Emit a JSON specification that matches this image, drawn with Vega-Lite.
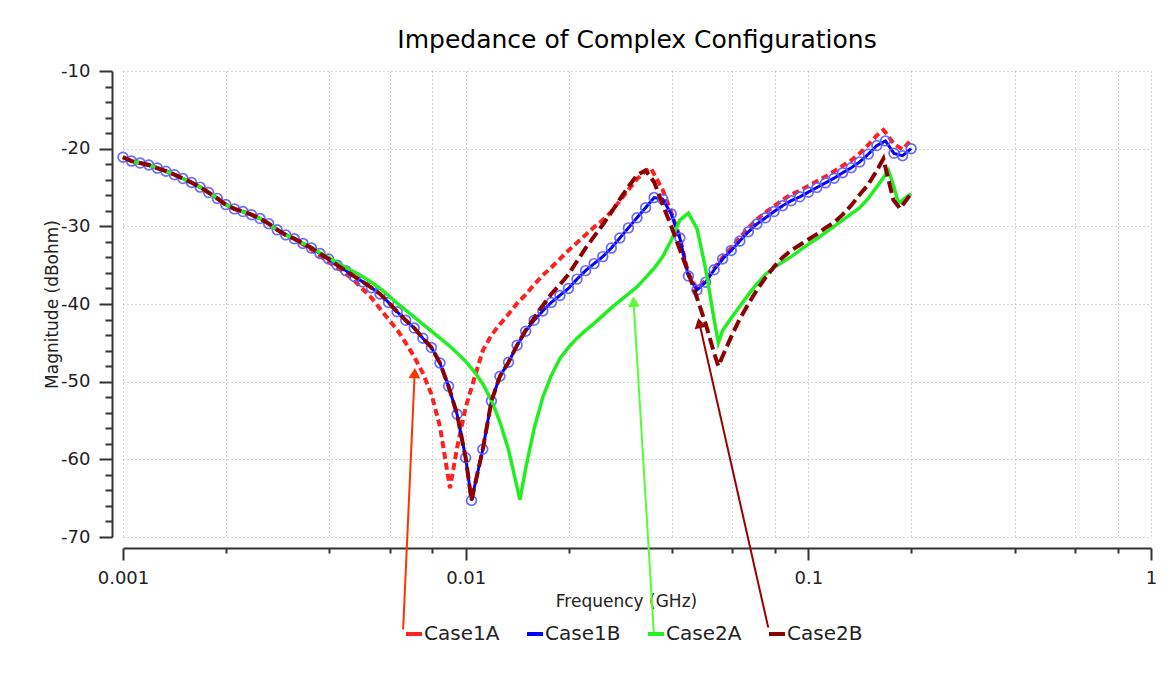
{
"$schema": "https://vega.github.io/schema/vega-lite/v6.json",
"width": 1028,
"height": 466,
"autosize": {"type": "none"},
"padding": {"left": 123, "top": 71, "right": 24, "bottom": 157},
"background": "white",
"title": {"text": "Impedance of Complex Configurations", "font": "DejaVu Sans", "fontSize": 25, "fontWeight": "normal", "color": "#000000", "anchor": "middle", "frame": "group", "baseline": "alphabetic", "offset": -11},
"config": {"view": {"stroke": null}, "font": "DejaVu Sans"},
"datasets": {
"curves": [
{"s":"Case1A","f":0.001,"m":-21.1},{"s":"Case1A","f":0.001059,"m":-21.6},{"s":"Case1A","f":0.001122,"m":-21.85},{"s":"Case1A","f":0.001189,"m":-22.1},{"s":"Case1A","f":0.001259,"m":-22.5},{"s":"Case1A","f":0.001334,"m":-22.9},{"s":"Case1A","f":0.001413,"m":-23.35},{"s":"Case1A","f":0.001496,"m":-23.85},{"s":"Case1A","f":0.001585,"m":-24.35},{"s":"Case1A","f":0.001679,"m":-24.95},{"s":"Case1A","f":0.001778,"m":-25.65},{"s":"Case1A","f":0.001884,"m":-26.4},{"s":"Case1A","f":0.001995,"m":-27.2},{"s":"Case1A","f":0.002113,"m":-27.75},{"s":"Case1A","f":0.002239,"m":-28.1},{"s":"Case1A","f":0.002371,"m":-28.5},{"s":"Case1A","f":0.002512,"m":-29.0},{"s":"Case1A","f":0.002661,"m":-29.65},{"s":"Case1A","f":0.002818,"m":-30.45},{"s":"Case1A","f":0.002985,"m":-31.1},{"s":"Case1A","f":0.003162,"m":-31.6},
{"s":"Case1A","f":0.00335,"m":-32.3},{"s":"Case1A","f":0.003548,"m":-33.0},{"s":"Case1A","f":0.003758,"m":-33.8},{"s":"Case1A","f":0.003981,"m":-34.6},{"s":"Case1A","f":0.004217,"m":-35.3},{"s":"Case1A","f":0.004467,"m":-36.1},{"s":"Case1A","f":0.004732,"m":-37.0},{"s":"Case1A","f":0.005012,"m":-38.1},{"s":"Case1A","f":0.005309,"m":-39.2},{"s":"Case1A","f":0.005623,"m":-40.6},{"s":"Case1A","f":0.005957,"m":-42.0},{"s":"Case1A","f":0.00631,"m":-43.3},{"s":"Case1A","f":0.006683,"m":-45.0},{"s":"Case1A","f":0.007079,"m":-46.8},{"s":"Case1A","f":0.007499,"m":-48.9},{"s":"Case1A","f":0.007943,"m":-51.6},{"s":"Case1A","f":0.008414,"m":-55.8},{"s":"Case1A","f":0.009,"m":-63.7},{"s":"Case1A","f":0.009441,"m":-58.5},{"s":"Case1A","f":0.01,"m":-53.3},{"s":"Case1A","f":0.01059,"m":-49.6},{"s":"Case1A","f":0.01122,"m":-46.0},{"s":"Case1A","f":0.01189,"m":-44.0},{"s":"Case1A","f":0.01259,"m":-42.6},{"s":"Case1A","f":0.01334,"m":-41.3},{"s":"Case1A","f":0.01413,"m":-39.9},{"s":"Case1A","f":0.01496,"m":-38.8},{"s":"Case1A","f":0.01585,"m":-37.5},{"s":"Case1A","f":0.01679,"m":-36.3},{"s":"Case1A","f":0.01778,"m":-35.3},{"s":"Case1A","f":0.01884,"m":-34.2},{"s":"Case1A","f":0.01995,"m":-33.1},{"s":"Case1A","f":0.02113,"m":-32.1},{"s":"Case1A","f":0.02239,"m":-31.1},{"s":"Case1A","f":0.02371,"m":-30.1},{"s":"Case1A","f":0.02512,"m":-29.2},{"s":"Case1A","f":0.02661,"m":-28.1},{"s":"Case1A","f":0.02818,"m":-26.7},{"s":"Case1A","f":0.02985,"m":-25.3},{"s":"Case1A","f":0.03162,"m":-23.9},{"s":"Case1A","f":0.0335,"m":-22.9},{"s":"Case1A","f":0.0347,"m":-22.5},{"s":"Case1A","f":0.03548,"m":-23.3},{"s":"Case1A","f":0.03758,"m":-25.3},{"s":"Case1A","f":0.03981,"m":-28.2},{"s":"Case1A","f":0.04217,"m":-31.4},{"s":"Case1A","f":0.04467,"m":-36.2},{"s":"Case1A","f":0.04732,"m":-38.0},{"s":"Case1A","f":0.05012,"m":-37.0},{"s":"Case1A","f":0.05309,"m":-35.4},{"s":"Case1A","f":0.05623,"m":-34.0},{"s":"Case1A","f":0.05957,"m":-32.8},{"s":"Case1A","f":0.0631,"m":-31.5},{"s":"Case1A","f":0.06683,"m":-30.2},{"s":"Case1A","f":0.07079,"m":-29.1},{"s":"Case1A","f":0.07499,"m":-28.2},{"s":"Case1A","f":0.07943,"m":-27.4},{"s":"Case1A","f":0.08414,"m":-26.6},{"s":"Case1A","f":0.08913,"m":-25.9},{"s":"Case1A","f":0.09441,"m":-25.4},{"s":"Case1A","f":0.1,"m":-24.8},{"s":"Case1A","f":0.1059,"m":-24.2},{"s":"Case1A","f":0.1122,"m":-23.6},{"s":"Case1A","f":0.1189,"m":-22.9},{"s":"Case1A","f":0.1259,"m":-22.2},{"s":"Case1A","f":0.1334,"m":-21.5},{"s":"Case1A","f":0.1413,"m":-20.6},{"s":"Case1A","f":0.1496,"m":-19.5},{"s":"Case1A","f":0.1585,"m":-18.3},{"s":"Case1A","f":0.1656,"m":-17.6},{"s":"Case1A","f":0.1679,"m":-17.9},{"s":"Case1A","f":0.1778,"m":-19.4},{"s":"Case1A","f":0.1884,"m":-20.1},{"s":"Case1A","f":0.1995,"m":-18.9},
{"s":"Case1B","f":0.001,"m":-21.1},{"s":"Case1B","f":0.001059,"m":-21.6},{"s":"Case1B","f":0.001122,"m":-21.85},{"s":"Case1B","f":0.001189,"m":-22.1},{"s":"Case1B","f":0.001259,"m":-22.5},{"s":"Case1B","f":0.001334,"m":-22.9},{"s":"Case1B","f":0.001413,"m":-23.35},{"s":"Case1B","f":0.001496,"m":-23.85},{"s":"Case1B","f":0.001585,"m":-24.35},{"s":"Case1B","f":0.001679,"m":-24.95},{"s":"Case1B","f":0.001778,"m":-25.65},{"s":"Case1B","f":0.001884,"m":-26.4},{"s":"Case1B","f":0.001995,"m":-27.2},{"s":"Case1B","f":0.002113,"m":-27.75},{"s":"Case1B","f":0.002239,"m":-28.1},{"s":"Case1B","f":0.002371,"m":-28.5},{"s":"Case1B","f":0.002512,"m":-29.0},{"s":"Case1B","f":0.002661,"m":-29.65},{"s":"Case1B","f":0.002818,"m":-30.45},{"s":"Case1B","f":0.002985,"m":-31.1},{"s":"Case1B","f":0.003162,"m":-31.6},{"s":"Case1B","f":0.00335,"m":-32.2},{"s":"Case1B","f":0.003548,"m":-32.8},{"s":"Case1B","f":0.003758,"m":-33.5},{"s":"Case1B","f":0.003981,"m":-34.2},{"s":"Case1B","f":0.004217,"m":-35.0},{"s":"Case1B","f":0.004467,"m":-35.7},{"s":"Case1B","f":0.004732,"m":-36.45},{"s":"Case1B","f":0.005012,"m":-37.15},{"s":"Case1B","f":0.005309,"m":-37.9},{"s":"Case1B","f":0.005623,"m":-38.7},{"s":"Case1B","f":0.005957,"m":-39.8},{"s":"Case1B","f":0.00631,"m":-41.0},{"s":"Case1B","f":0.006683,"m":-42.1},{"s":"Case1B","f":0.007079,"m":-43.1},{"s":"Case1B","f":0.007499,"m":-44.4},{"s":"Case1B","f":0.007943,"m":-45.6},{"s":"Case1B","f":0.008414,"m":-47.6},{"s":"Case1B","f":0.008913,"m":-50.6},{"s":"Case1B","f":0.009441,"m":-54.2},{"s":"Case1B","f":0.01,"m":-59.8},{"s":"Case1B","f":0.0104,"m":-65.3},{"s":"Case1B","f":0.01122,"m":-58.7},{"s":"Case1B","f":0.01189,"m":-52.5},{"s":"Case1B","f":0.01259,"m":-49.3},{"s":"Case1B","f":0.01334,"m":-47.5},{"s":"Case1B","f":0.01413,"m":-45.3},{"s":"Case1B","f":0.01496,"m":-43.5},{"s":"Case1B","f":0.01585,"m":-42.1},{"s":"Case1B","f":0.01679,"m":-40.9},{"s":"Case1B","f":0.01778,"m":-39.8},{"s":"Case1B","f":0.01884,"m":-38.9},{"s":"Case1B","f":0.01995,"m":-38.0},{"s":"Case1B","f":0.02113,"m":-36.8},{"s":"Case1B","f":0.02239,"m":-35.7},{"s":"Case1B","f":0.02371,"m":-34.8},{"s":"Case1B","f":0.02512,"m":-33.9},{"s":"Case1B","f":0.02661,"m":-32.8},{"s":"Case1B","f":0.02818,"m":-31.5},{"s":"Case1B","f":0.02985,"m":-30.2},{"s":"Case1B","f":0.03162,"m":-28.9},{"s":"Case1B","f":0.0335,"m":-27.6},{"s":"Case1B","f":0.03548,"m":-26.3},{"s":"Case1B","f":0.03758,"m":-26.5},{"s":"Case1B","f":0.03981,"m":-28.4},{"s":"Case1B","f":0.04217,"m":-31.5},{"s":"Case1B","f":0.04467,"m":-36.4},{"s":"Case1B","f":0.04732,"m":-38.2},{"s":"Case1B","f":0.05012,"m":-37.2},{"s":"Case1B","f":0.05309,"m":-35.6},{"s":"Case1B","f":0.05623,"m":-34.2},{"s":"Case1B","f":0.05957,"m":-33.1},{"s":"Case1B","f":0.0631,"m":-31.9},{"s":"Case1B","f":0.06683,"m":-30.7},{"s":"Case1B","f":0.07079,"m":-29.7},{"s":"Case1B","f":0.07499,"m":-28.9},{"s":"Case1B","f":0.07943,"m":-28.1},{"s":"Case1B","f":0.08414,"m":-27.35},{"s":"Case1B","f":0.08913,"m":-26.7},{"s":"Case1B","f":0.09441,"m":-26.2},{"s":"Case1B","f":0.1,"m":-25.6},{"s":"Case1B","f":0.1059,"m":-25.0},{"s":"Case1B","f":0.1122,"m":-24.4},{"s":"Case1B","f":0.1189,"m":-23.8},{"s":"Case1B","f":0.1259,"m":-23.1},{"s":"Case1B","f":0.1334,"m":-22.45},{"s":"Case1B","f":0.1413,"m":-21.7},{"s":"Case1B","f":0.1496,"m":-20.7},{"s":"Case1B","f":0.1585,"m":-19.6},{"s":"Case1B","f":0.1679,"m":-19.0},{"s":"Case1B","f":0.1778,"m":-20.6},{"s":"Case1B","f":0.1884,"m":-20.9},{"s":"Case1B","f":0.1995,"m":-20.0},
{"s":"Case2A","f":0.001,"m":-21.1},{"s":"Case2A","f":0.001059,"m":-21.6},{"s":"Case2A","f":0.001122,"m":-21.85},{"s":"Case2A","f":0.001189,"m":-22.1},{"s":"Case2A","f":0.001259,"m":-22.5},{"s":"Case2A","f":0.001334,"m":-22.9},{"s":"Case2A","f":0.001413,"m":-23.35},{"s":"Case2A","f":0.001496,"m":-23.85},{"s":"Case2A","f":0.001585,"m":-24.35},{"s":"Case2A","f":0.001679,"m":-24.95},{"s":"Case2A","f":0.001778,"m":-25.65},{"s":"Case2A","f":0.001884,"m":-26.4},{"s":"Case2A","f":0.001995,"m":-27.2},{"s":"Case2A","f":0.002113,"m":-27.75},{"s":"Case2A","f":0.002239,"m":-28.1},{"s":"Case2A","f":0.002371,"m":-28.5},{"s":"Case2A","f":0.002512,"m":-29.0},{"s":"Case2A","f":0.002661,"m":-29.65},{"s":"Case2A","f":0.002818,"m":-30.45},{"s":"Case2A","f":0.002985,"m":-31.1},{"s":"Case2A","f":0.003162,"m":-31.6},{"s":"Case2A","f":0.00335,"m":-32.2},
{"s":"Case2A","f":0.003548,"m":-32.7},{"s":"Case2A","f":0.003758,"m":-33.4},{"s":"Case2A","f":0.003981,"m":-34.0},{"s":"Case2A","f":0.004217,"m":-34.7},{"s":"Case2A","f":0.004467,"m":-35.3},{"s":"Case2A","f":0.004732,"m":-35.9},{"s":"Case2A","f":0.005012,"m":-36.5},{"s":"Case2A","f":0.005309,"m":-37.2},{"s":"Case2A","f":0.005623,"m":-38.0},{"s":"Case2A","f":0.005957,"m":-38.9},{"s":"Case2A","f":0.00631,"m":-39.9},{"s":"Case2A","f":0.006683,"m":-40.8},{"s":"Case2A","f":0.007079,"m":-41.7},{"s":"Case2A","f":0.007499,"m":-42.6},{"s":"Case2A","f":0.007943,"m":-43.5},{"s":"Case2A","f":0.008414,"m":-44.4},{"s":"Case2A","f":0.008913,"m":-45.3},{"s":"Case2A","f":0.009441,"m":-46.3},{"s":"Case2A","f":0.01,"m":-47.4},{"s":"Case2A","f":0.01059,"m":-48.7},{"s":"Case2A","f":0.01122,"m":-50.3},{"s":"Case2A","f":0.01189,"m":-52.4},{"s":"Case2A","f":0.01259,"m":-55.2},{"s":"Case2A","f":0.01334,"m":-58.8},{"s":"Case2A","f":0.01413,"m":-63.6},{"s":"Case2A","f":0.0144,"m":-65.2},{"s":"Case2A","f":0.01496,"m":-61.2},{"s":"Case2A","f":0.01585,"m":-56.0},{"s":"Case2A","f":0.01679,"m":-52.0},{"s":"Case2A","f":0.01778,"m":-49.2},{"s":"Case2A","f":0.01884,"m":-47.0},{"s":"Case2A","f":0.01995,"m":-45.6},{"s":"Case2A","f":0.02113,"m":-44.4},{"s":"Case2A","f":0.02239,"m":-43.4},{"s":"Case2A","f":0.02371,"m":-42.5},{"s":"Case2A","f":0.02512,"m":-41.5},{"s":"Case2A","f":0.02661,"m":-40.5},{"s":"Case2A","f":0.02818,"m":-39.6},{"s":"Case2A","f":0.02985,"m":-38.7},{"s":"Case2A","f":0.03162,"m":-37.8},{"s":"Case2A","f":0.0335,"m":-36.6},{"s":"Case2A","f":0.03548,"m":-35.4},{"s":"Case2A","f":0.03758,"m":-33.9},{"s":"Case2A","f":0.03981,"m":-31.8},{"s":"Case2A","f":0.04217,"m":-29.2},{"s":"Case2A","f":0.04467,"m":-28.3},{"s":"Case2A","f":0.04732,"m":-30.3},{"s":"Case2A","f":0.05012,"m":-35.4},{"s":"Case2A","f":0.05309,"m":-42.0},{"s":"Case2A","f":0.05461,"m":-45.0},{"s":"Case2A","f":0.05623,"m":-43.4},{"s":"Case2A","f":0.05957,"m":-41.8},{"s":"Case2A","f":0.0631,"m":-40.3},{"s":"Case2A","f":0.06683,"m":-38.8},{"s":"Case2A","f":0.07079,"m":-37.4},{"s":"Case2A","f":0.07499,"m":-36.2},{"s":"Case2A","f":0.07943,"m":-35.3},{"s":"Case2A","f":0.08414,"m":-34.6},{"s":"Case2A","f":0.08913,"m":-33.9},{"s":"Case2A","f":0.09441,"m":-33.1},{"s":"Case2A","f":0.1,"m":-32.3},{"s":"Case2A","f":0.1059,"m":-31.6},{"s":"Case2A","f":0.1122,"m":-30.8},{"s":"Case2A","f":0.1189,"m":-30.0},{"s":"Case2A","f":0.1259,"m":-29.2},{"s":"Case2A","f":0.1334,"m":-28.4},{"s":"Case2A","f":0.1413,"m":-27.6},{"s":"Case2A","f":0.1496,"m":-26.4},{"s":"Case2A","f":0.1585,"m":-24.9},{"s":"Case2A","f":0.1713,"m":-22.8},{"s":"Case2A","f":0.1771,"m":-24.7},{"s":"Case2A","f":0.1833,"m":-27.0},{"s":"Case2A","f":0.1995,"m":-25.8},
{"s":"Case2B","f":0.001,"m":-21.1},{"s":"Case2B","f":0.001059,"m":-21.6},{"s":"Case2B","f":0.001122,"m":-21.85},{"s":"Case2B","f":0.001189,"m":-22.1},{"s":"Case2B","f":0.001259,"m":-22.5},{"s":"Case2B","f":0.001334,"m":-22.9},{"s":"Case2B","f":0.001413,"m":-23.35},{"s":"Case2B","f":0.001496,"m":-23.85},{"s":"Case2B","f":0.001585,"m":-24.35},{"s":"Case2B","f":0.001679,"m":-24.95},{"s":"Case2B","f":0.001778,"m":-25.65},{"s":"Case2B","f":0.001884,"m":-26.4},{"s":"Case2B","f":0.001995,"m":-27.2},{"s":"Case2B","f":0.002113,"m":-27.75},{"s":"Case2B","f":0.002239,"m":-28.1},{"s":"Case2B","f":0.002371,"m":-28.5},{"s":"Case2B","f":0.002512,"m":-29.0},{"s":"Case2B","f":0.002661,"m":-29.65},{"s":"Case2B","f":0.002818,"m":-30.45},{"s":"Case2B","f":0.002985,"m":-31.1},{"s":"Case2B","f":0.003162,"m":-31.6},{"s":"Case2B","f":0.00335,"m":-32.2},{"s":"Case2B","f":0.003548,"m":-32.8},{"s":"Case2B","f":0.003758,"m":-33.5},{"s":"Case2B","f":0.003981,"m":-34.2},{"s":"Case2B","f":0.004217,"m":-35.0},{"s":"Case2B","f":0.004467,"m":-35.7},{"s":"Case2B","f":0.004732,"m":-36.45},{"s":"Case2B","f":0.005012,"m":-37.15},{"s":"Case2B","f":0.005309,"m":-37.9},{"s":"Case2B","f":0.005623,"m":-38.7},{"s":"Case2B","f":0.005957,"m":-39.8},{"s":"Case2B","f":0.00631,"m":-41.0},{"s":"Case2B","f":0.006683,"m":-42.1},{"s":"Case2B","f":0.007079,"m":-43.1},{"s":"Case2B","f":0.007499,"m":-44.4},{"s":"Case2B","f":0.007943,"m":-45.6},{"s":"Case2B","f":0.008414,"m":-47.6},{"s":"Case2B","f":0.008913,"m":-50.6},{"s":"Case2B","f":0.009441,"m":-54.2},{"s":"Case2B","f":0.01,"m":-59.8},{"s":"Case2B","f":0.0104,"m":-65.3},{"s":"Case2B","f":0.01122,"m":-58.7},{"s":"Case2B","f":0.01189,"m":-52.5},{"s":"Case2B","f":0.01259,"m":-49.3},{"s":"Case2B","f":0.01334,"m":-47.5},{"s":"Case2B","f":0.01413,"m":-45.3},
{"s":"Case2B","f":0.01496,"m":-43.4},{"s":"Case2B","f":0.01585,"m":-41.8},{"s":"Case2B","f":0.01679,"m":-40.2},{"s":"Case2B","f":0.01778,"m":-38.7},{"s":"Case2B","f":0.01884,"m":-37.5},{"s":"Case2B","f":0.01995,"m":-36.2},{"s":"Case2B","f":0.02113,"m":-34.5},{"s":"Case2B","f":0.02239,"m":-32.8},{"s":"Case2B","f":0.02371,"m":-31.3},{"s":"Case2B","f":0.02512,"m":-29.8},{"s":"Case2B","f":0.02661,"m":-28.2},{"s":"Case2B","f":0.02818,"m":-26.5},{"s":"Case2B","f":0.02985,"m":-24.9},{"s":"Case2B","f":0.03162,"m":-23.4},{"s":"Case2B","f":0.0335,"m":-22.8},{"s":"Case2B","f":0.03548,"m":-24.3},{"s":"Case2B","f":0.03758,"m":-27.2},{"s":"Case2B","f":0.03981,"m":-30.0},{"s":"Case2B","f":0.04217,"m":-33.0},{"s":"Case2B","f":0.04467,"m":-36.0},{"s":"Case2B","f":0.04732,"m":-39.2},{"s":"Case2B","f":0.05012,"m":-42.5},{"s":"Case2B","f":0.05309,"m":-46.3},{"s":"Case2B","f":0.05461,"m":-48.0},{"s":"Case2B","f":0.05623,"m":-46.7},{"s":"Case2B","f":0.05957,"m":-44.2},{"s":"Case2B","f":0.0631,"m":-41.9},{"s":"Case2B","f":0.06683,"m":-40.0},{"s":"Case2B","f":0.07079,"m":-38.2},{"s":"Case2B","f":0.07499,"m":-36.6},{"s":"Case2B","f":0.07943,"m":-35.2},{"s":"Case2B","f":0.08414,"m":-34.0},{"s":"Case2B","f":0.08913,"m":-33.1},{"s":"Case2B","f":0.09441,"m":-32.4},{"s":"Case2B","f":0.1,"m":-31.7},{"s":"Case2B","f":0.1059,"m":-31.0},{"s":"Case2B","f":0.1122,"m":-30.2},{"s":"Case2B","f":0.1189,"m":-29.5},{"s":"Case2B","f":0.1259,"m":-28.5},{"s":"Case2B","f":0.1334,"m":-27.3},{"s":"Case2B","f":0.1413,"m":-25.9},{"s":"Case2B","f":0.1496,"m":-24.6},{"s":"Case2B","f":0.1585,"m":-22.8},{"s":"Case2B","f":0.1656,"m":-21.3},{"s":"Case2B","f":0.1771,"m":-26.6},{"s":"Case2B","f":0.1852,"m":-27.7},{"s":"Case2B","f":0.1995,"m":-25.8}
],
"arrows": [
{"a":"Case1A","end":"tail","f":0.006569,"m":-81.9},{"a":"Case1A","end":"head","f":0.007098,"m":-48.9},
{"a":"Case2A","end":"tail","f":0.03544,"m":-82.66},{"a":"Case2A","end":"head","f":0.0309,"m":-39.7},
{"a":"Case2B","end":"tail","f":0.0764,"m":-81.67},{"a":"Case2B","end":"head","f":0.04808,"m":-42.45}
]
},
"encoding": {
"x": {"field": "f", "type": "quantitative",
 "scale": {"type": "log", "domain": [0.001, 1], "nice": false},
 "axis": {"title": "Frequency (GHz)", "values": [0.001,0.002,0.004,0.006,0.008,0.01,0.02,0.04,0.06,0.08,0.1,0.2,0.4,0.6,0.8,1],
  "labelExpr": "datum.value==0.001?'0.001':datum.value==0.01?'0.01':datum.value==0.1?'0.1':datum.value==1?'1':''",
  "offset": 11,
  "tickSize": {"condition": {"test": "datum.value==0.001||datum.value==0.01||datum.value==0.1||datum.value==1", "value": 12}, "value": 5},
  "tickWidth": 2, "tickColor": "#333333", "domainColor": "#333333", "domainWidth": 2,
  "grid": true, "gridDash": [1,3], "gridColor": "#a8a8a8", "gridWidth": 1,
  "labelFont": "DejaVu Sans", "labelFontSize": 18, "labelColor": "#222222", "labelPadding": 9, "labelFlush": false, "labelOverlap": false,
  "titleFont": "DejaVu Sans", "titleFontSize": 17, "titleFontWeight": "normal", "titleColor": "#222222", "titlePadding": 6, "titleX": 503}},
"y": {"field": "m", "type": "quantitative",
 "scale": {"domain": [-70, -10], "nice": false, "zero": false},
 "axis": {"title": "Magnitude (dBohm)", "values": [-70,-68,-66,-64,-62,-60,-58,-56,-54,-52,-50,-48,-46,-44,-42,-40,-38,-36,-34,-32,-30,-28,-26,-24,-22,-20,-18,-16,-14,-12,-10],
  "labelExpr": "datum.value % 10 == 0 ? '' + datum.value : ''",
  "offset": 11,
  "tickSize": {"condition": {"test": "datum.value % 10 == 0", "value": 13}, "value": 7},
  "tickWidth": 2, "tickColor": "#333333", "domainColor": "#333333", "domainWidth": 2,
  "grid": true, "gridDash": [1,3], "gridColor": "#a8a8a8", "gridWidth": 1,
  "gridOpacity": {"condition": {"test": "datum.value % 10 == 0", "value": 1}, "value": 0},
  "labelFont": "DejaVu Sans", "labelFontSize": 18, "labelColor": "#222222", "labelPadding": 9, "labelOverlap": false,
  "titleFont": "DejaVu Sans", "titleFontSize": 17, "titleFontWeight": "normal", "titleColor": "#222222", "titlePadding": -1}}
},
"layer": [
{"data": {"name": "curves"}, "transform": [{"filter": "datum.s == 'Case1A'"}],
 "mark": {"type": "line", "strokeWidth": 4, "strokeDash": [7, 4]},
 "encoding": {"color": {"field": "s", "type": "nominal",
  "scale": {"domain": ["Case1A", "Case1B", "Case2A", "Case2B"], "range": ["#ff2020", "#0000ff", "#22ee22", "#8b0000"]},
  "legend": {"orient": "none", "legendX": 281, "legendY": 553, "direction": "horizontal", "columns": 4, "title": null,
   "symbolType": "stroke", "symbolStrokeWidth": 4, "symbolSize": 256, "symbolDash": [1, 0],
   "labelFont": "DejaVu Sans", "labelFontSize": 20, "labelColor": "#222222", "labelOffset": 0, "columnPadding": 19, "padding": 0}}}},
{"data": {"name": "curves"}, "transform": [{"filter": "datum.s == 'Case1B'"}],
 "mark": {"type": "line", "strokeWidth": 3},
 "encoding": {"color": {"field": "s", "type": "nominal"}}},
{"data": {"name": "curves"}, "transform": [{"filter": "datum.s == 'Case1B'"}],
 "mark": {"type": "point", "shape": "circle", "size": 95, "filled": false, "stroke": "#5a5aff", "strokeWidth": 1.7, "opacity": 0.9}},
{"data": {"name": "curves"}, "transform": [{"filter": "datum.s == 'Case2A'"}],
 "mark": {"type": "line", "strokeWidth": 3.5},
 "encoding": {"color": {"field": "s", "type": "nominal"}}},
{"data": {"name": "curves"}, "transform": [{"filter": "datum.s == 'Case2B'"}],
 "mark": {"type": "line", "strokeWidth": 4, "strokeDash": [12, 5]},
 "encoding": {"color": {"field": "s", "type": "nominal"}}},
{"data": {"name": "arrows"},
 "mark": {"type": "line", "strokeWidth": 2},
 "encoding": {"detail": {"field": "a"}, "stroke": {"field": "a", "type": "nominal", "scale": {"domain": ["Case1A", "Case2A", "Case2B"], "range": ["#ff3300", "#55ff33", "#990000"]}, "legend": null}}},
{"data": {"name": "arrows"}, "transform": [{"filter": "datum.end == 'head' && datum.a == 'Case1A'"}],
 "mark": {"type": "point", "shape": "triangle-up", "filled": true, "size": 140, "angle": 2.6, "color": "#ff3300", "opacity": 1}},
{"data": {"name": "arrows"}, "transform": [{"filter": "datum.end == 'head' && datum.a == 'Case2A'"}],
 "mark": {"type": "point", "shape": "triangle-up", "filled": true, "size": 140, "angle": -3.5, "color": "#55ff33", "opacity": 1}},
{"data": {"name": "arrows"}, "transform": [{"filter": "datum.end == 'head' && datum.a == 'Case2B'"}],
 "mark": {"type": "point", "shape": "triangle-up", "filled": true, "size": 140, "angle": -12.7, "color": "#990000", "opacity": 1}}
]
}
